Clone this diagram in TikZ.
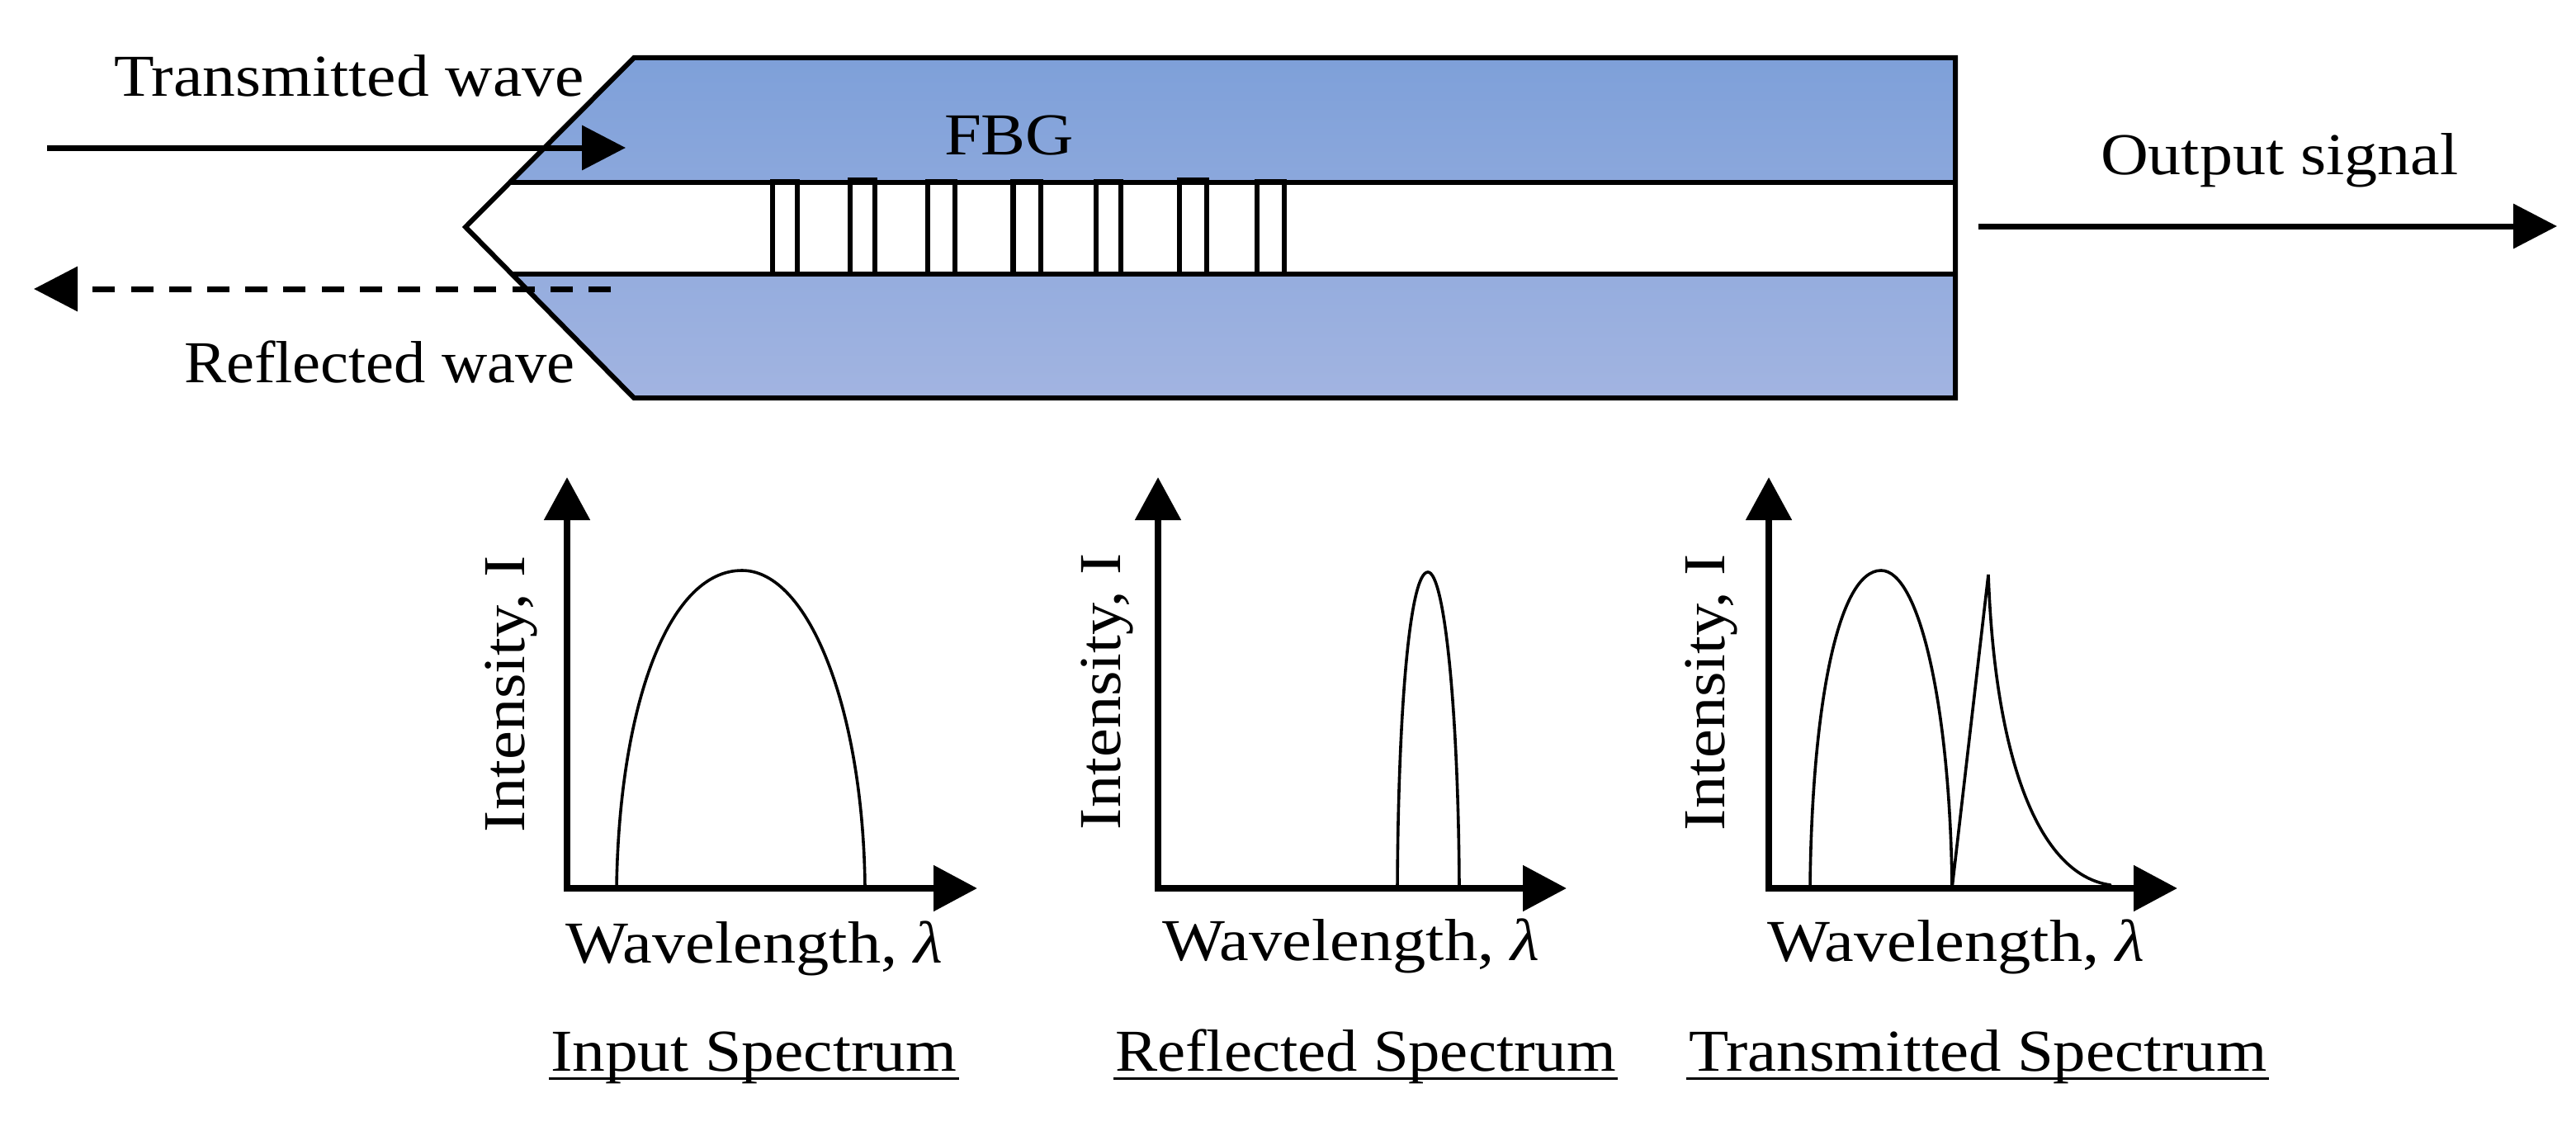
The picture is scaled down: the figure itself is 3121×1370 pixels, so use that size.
\documentclass[tikz,border=0pt]{standalone}
\usepackage{fontspec}
\usepackage{graphicx}
\setmainfont[FakeStretch=1.09]{Liberation Serif}
\usetikzlibrary{arrows.meta}
\definecolor{clTop}{HTML}{7EA0D9}
\definecolor{clBot}{HTML}{A2B4E1}
\newcommand{\hfit}[2]{\scalebox{#1}[1]{#2}}
\tikzset{
  lbl/.style={anchor=base west,inner sep=0pt,outer sep=0pt,font=\fontsize{72}{80}\selectfont},
  vlbl/.style={lbl,rotate=90},
  edge/.style={line width=6pt,line join=miter,draw=black},
  tooth/.style={line width=6.5pt,draw=black,line join=miter},
  wave/.style={line width=7pt,-{Triangle[length=53pt,width=53pt]}},
  axisline/.style={line width=8.5pt,{Triangle[length=52pt,width=54pt]}-{Triangle[length=53pt,width=54pt]}},
  curve/.style={line width=3.6pt,line cap=round,line join=miter},
  uline/.style={line width=3pt}
}
\begin{document}
\begin{tikzpicture}[x=1pt,y=-1pt]
\useasboundingbox (0,0) rectangle (3121,1370);
% fibre cladding
\path[top color=clTop,bottom color=clBot] (768,70) -- (2369,70) -- (2369,482) -- (768,482) -- (564,275) -- cycle;
% core
\fill[white] (619,221) -- (2369,221) -- (2369,332) -- (619,332) -- (564,275) -- cycle;
\draw[edge] (619,221) -- (2369,221);
\draw[edge] (619,332) -- (2369,332);
\draw[edge] (768,70) -- (2369,70) -- (2369,482) -- (768,482) -- (564,275) -- cycle;
% grating
\draw[tooth] (936,332) |- (966,220) -- (966,332);
\draw[tooth] (1030,332) |- (1060,218) -- (1060,332);
\draw[tooth] (1124,332) |- (1157,220) -- (1157,332);
\draw[tooth] (1227.5,332) |- (1261,220) -- (1261,332);
\draw[tooth] (1328,332) |- (1358,220) -- (1358,332);
\draw[tooth] (1429,332) |- (1462,218) -- (1462,332);
\draw[tooth] (1523,332) |- (1556,220) -- (1556,332);
% waves
\coordinate (tIn) at (57,179);
\coordinate (tOut) at (758,179);
\coordinate (rIn) at (740,350);
\coordinate (rOut) at (41,350);
\coordinate (oIn) at (2397,274);
\coordinate (oOut) at (3098,274);
\draw[wave] (tIn) -- (tOut);
\draw[wave,dash pattern=on 27pt off 19.2pt] (rIn) -- (rOut);
\draw[wave] (oIn) -- (oOut);
\node[lbl] (tw) at (138,117) {\hfit{1.014}{Transmitted wave}};
\node[lbl] (rw) at (223,463) {\hfit{0.975}{Reflected wave}};
\node[lbl] (fbg) at (1144,187) {\hfit{1.03}{FBG}};
\node[lbl] (os) at (2545,211) {\hfit{1.02}{Output signal}};
% Input spectrum
\coordinate (a1y) at (687,578);
\coordinate (a1o) at (687,1076);
\coordinate (a1x) at (1184,1076);
\draw[axisline,line join=miter] (a1y) -- (a1o) -- (a1x);
\draw[curve] (747,1076) .. controls (750,860) and (808,691) .. (899,691)
  .. controls (980,691) and (1046,860) .. (1048,1076);
\node[vlbl] (i1) at (635,1008) {Intensity, I};
\node[lbl] (w1) at (685,1166) {\hfit{1.025}{Wavelength, \textit{λ}}};
\node[lbl] (s1) at (667,1297) {\hfit{1.013}{Input Spectrum}};
\draw[uline] ([xshift=-2pt,yshift=-9pt]s1.base west) -- ([xshift=3pt,yshift=-9pt]s1.base east);
% Reflected spectrum
\coordinate (a2y) at (1403,578);
\coordinate (a2o) at (1403,1076);
\coordinate (a2x) at (1898,1076);
\draw[axisline,line join=miter] (a2y) -- (a2o) -- (a2x);
\draw[curve] (1693,1076) .. controls (1694,860) and (1708,693) .. (1730,693)
  .. controls (1750,693) and (1767,860) .. (1768,1076);
\node[vlbl] (i2) at (1357,1005) {Intensity, I};
\node[lbl] (w2) at (1408,1163) {\hfit{1.025}{Wavelength, \textit{λ}}};
\node[lbl] (s2) at (1351,1297) {\hfit{0.977}{Reflected Spectrum}};
\draw[uline] ([xshift=-2pt,yshift=-9pt]s2.base west) -- ([xshift=2pt,yshift=-9pt]s2.base east);
% Transmitted spectrum
\coordinate (a3y) at (2143,578);
\coordinate (a3o) at (2143,1076);
\coordinate (a3x) at (2638,1076);
\draw[axisline,line join=miter] (a3y) -- (a3o) -- (a3x);
\draw[curve] (2193,1076) .. controls (2195,860) and (2226,691) .. (2279,691)
  .. controls (2326,691) and (2363,860) .. (2365,1076)
  -- (2409,696) .. controls (2417,920) and (2470,1060) .. (2557,1072);
\node[vlbl] (i3) at (2089,1006) {Intensity, I};
\node[lbl] (w3) at (2141,1164) {\hfit{1.025}{Wavelength, \textit{λ}}};
\node[lbl] (s3) at (2046,1297) {\hfit{1.005}{Transmitted Spectrum}};
\draw[uline] ([xshift=-3pt,yshift=-9pt]s3.base west) -- ([xshift=3pt,yshift=-9pt]s3.base east);
\end{tikzpicture}
\end{document}
